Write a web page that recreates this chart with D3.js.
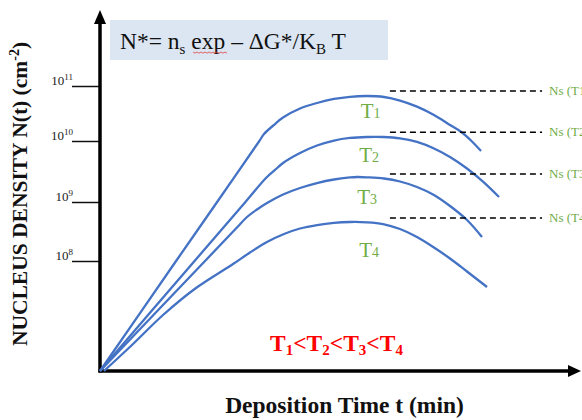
<!DOCTYPE html>
<html lang="en">
<head>
    <meta charset="UTF-8">
    <title>nucleusDensity</title>
    <script src="https://d3js.org/d3.v7.min.js"></script>
    <style>
        body { margin: 0; background: #fff; }
        svg { display: block; }
        svg text { font-family: "Liberation Serif", "Times New Roman", "DejaVu Serif", serif; }
    </style>
</head>
<body>
    <div id="chart"></div>
    <script>
        // curve data: deposition time (arbitrary min) vs log10 N
        const timeT1 = [0, 15.85, 24.4, 33.2, 34.17, 36.46, 38.13, 41.67, 45.21, 48.75, 52.08, 55.63, 59.17, 62.5, 66.04, 69.58, 72.92, 75.42, 77.5, 79.38];
        const logNT1 = [6, 8, 9, 10, 10.127, 10.309, 10.427, 10.591, 10.691, 10.764, 10.804, 10.818, 10.8, 10.735, 10.625, 10.473, 10.291, 10.155, 9.992, 9.836];
        const timeT2 = [0, 19.7, 30.3, 34.58, 36.46, 38.13, 41.67, 45.21, 48.75, 52.08, 55.63, 58.96, 62.5, 66.04, 69.58, 72.92, 76.46, 79.79, 83.13];
        const logNT2 = [6, 8, 9, 9.393, 9.525, 9.639, 9.803, 9.926, 10.009, 10.055, 10.073, 10.073, 10.049, 9.984, 9.877, 9.738, 9.549, 9.334, 9.082];
        const timeT3 = [0, 21.88, 28.33, 30.63, 32.71, 34.79, 38.13, 41.67, 45.21, 48.75, 52.08, 53.54, 55.63, 59.17, 62.5, 66.04, 69.58, 72.92, 76.46, 79.58];
        const logNT3 = [6, 8, 8.551, 8.746, 8.873, 8.983, 9.123, 9.23, 9.311, 9.369, 9.402, 9.41, 9.405, 9.385, 9.336, 9.246, 9.115, 8.932, 8.695, 8.407];
        const timeT4 = [0.83, 6.88, 13.13, 20.0, 27.71, 31.25, 34.79, 38.33, 41.67, 45.21, 48.75, 52.08, 55.63, 58.96, 62.5, 66.04, 69.58, 72.92, 76.46, 80.63];
        const logNT4 = [6, 6.491, 7.018, 7.509, 7.945, 8.144, 8.322, 8.458, 8.551, 8.61, 8.647, 8.661, 8.656, 8.627, 8.542, 8.407, 8.229, 8.042, 7.809, 7.527];

        const seriesNames = ["1", "2", "3", "4"];
        const seriesTimes = [timeT1, timeT2, timeT3, timeT4];
        const seriesLogN = [logNT1, logNT2, logNT3, logNT4];
        // label positions for T1..T4 (time, logN at baseline)
        const labelTime = [54.3, 54.0, 53.6, 54.0];
        const labelLogN = [10.42, 9.66, 8.97, 8.07];

        // saturation density Ns(T) dashed levels
        const nsLogN = [10.91, 10.16, 9.46, 8.73];
        const nsStart = 60.4, nsEnd = 92.1;

        const tickExps = [8, 9, 10, 11];

        const width = 582, height = 420;
        const svg = d3.select("#chart").append("svg")
            .attr("width", width)
            .attr("height", height);

        const x = d3.scaleLinear().domain([0, 100]).range([100, 580]);
        // uneven decade spacing as drawn in the schematic
        const y = d3.scaleLinear().domain([6, 8, 9, 10, 11]).range([371, 261, 202, 141, 86]);

        const blue = "#4472c4", green = "#70ad47";

        // formula box
        svg.append("rect")
            .attr("x", 110).attr("y", 20)
            .attr("width", 278).attr("height", 40)
            .attr("fill", "#dce6f2");
        const formula = svg.append("text")
            .attr("x", 120).attr("y", 49)
            .attr("font-size", 23.5)
            .attr("fill", "#111");
        formula.append("tspan").text("N*= n");
        formula.append("tspan").attr("font-size", 15).attr("dy", 5).text("s");
        formula.append("tspan").attr("dy", -5).text(" exp – ΔG*/K");
        formula.append("tspan").attr("font-size", 15).attr("dy", 5).text("B");
        formula.append("tspan").attr("dy", -5).text(" T");
        // spell-check squiggle under "exp"
        svg.append("path")
            .attr("d", "M" + d3.range(0, 18).map(i => `${193 + i * 2},${52 + (i % 2 ? 1.2 : 0)}`).join("L"))
            .attr("fill", "none")
            .attr("stroke", "#e04040")
            .attr("stroke-width", 0.8);

        // y ticks
        const yAxis = svg.append("g")
            .attr("transform", "translate(100,0)")
            .call(d3.axisLeft(y).tickValues(tickExps).tickSize(28).tickFormat(""));
        yAxis.select(".domain").remove();
        yAxis.selectAll(".tick line").attr("stroke", "#111").attr("stroke-width", 1.5);

        tickExps.forEach(e => {
            const t = svg.append("text")
                .attr("x", 73).attr("y", y(e) - 1)
                .attr("text-anchor", "end")
                .attr("font-size", 13)
                .attr("fill", "#222");
            t.append("tspan").text("10");
            t.append("tspan").attr("font-size", 9).attr("dy", -5).text(e);
        });

        // axes with arrows
        svg.append("line")
            .attr("x1", x(0)).attr("y1", y(6) + 1.5)
            .attr("x2", x(0)).attr("y2", 22)
            .attr("stroke", "#000").attr("stroke-width", 3.5);
        svg.append("path")
            .attr("d", `M${x(0) - 6},24 L${x(0)},10 L${x(0) + 6},24 Z`)
            .attr("fill", "#000");
        svg.append("line")
            .attr("x1", x(0) - 1.5).attr("y1", y(6))
            .attr("x2", 570).attr("y2", y(6))
            .attr("stroke", "#000").attr("stroke-width", 3.5);
        svg.append("path")
            .attr("d", `M568,${y(6) - 6} L581,${y(6)} L568,${y(6) + 6} Z`)
            .attr("fill", "#000");

        // curves
        const line = d3.line()
            .x(d => x(d[0]))
            .y(d => y(d[1]))
            .curve(d3.curveCatmullRom.alpha(0.5));

        seriesTimes.forEach((times, i) => {
            const pts = times.map((t, j) => [t, seriesLogN[i][j]]);
            svg.append("path")
                .datum(pts)
                .attr("d", line)
                .attr("fill", "none")
                .attr("stroke", blue)
                .attr("stroke-width", 2.3);
        });

        // Ns dashed levels
        nsLogN.forEach((v, i) => {
            svg.append("line")
                .attr("x1", x(nsStart)).attr("x2", x(nsEnd))
                .attr("y1", y(v)).attr("y2", y(v))
                .attr("stroke", "#000")
                .attr("stroke-width", 1.5)
                .attr("stroke-dasharray", "6,4");
            svg.append("text")
                .attr("x", x(nsEnd) + 7).attr("y", y(v) + 4)
                .attr("font-size", 13)
                .attr("fill", green)
                .text(`Ns (T${seriesNames[i]})`);
        });

        // T labels
        seriesNames.forEach((n, i) => {
            const t = svg.append("text")
                .attr("x", x(labelTime[i])).attr("y", y(labelLogN[i]))
                .attr("font-size", 21)
                .attr("fill", green);
            t.append("tspan").text("T");
            t.append("tspan").attr("font-size", 14).text(n);
        });

        // order of temperatures
        const order = svg.append("text")
            .attr("x", 270).attr("y", 351)
            .attr("font-size", 23.5)
            .attr("font-weight", "bold")
            .attr("fill", "#ff0000");
        seriesNames.forEach((n, i) => {
            order.append("tspan").attr("dy", i === 0 ? 0 : -4).text((i ? "<" : "") + "T");
            order.append("tspan").attr("font-size", 15).attr("dy", 4).text(n);
        });

        // axis titles
        svg.append("text")
            .attr("x", 344.5).attr("y", 413)
            .attr("text-anchor", "middle")
            .attr("font-size", 23.5)
            .attr("font-weight", "bold")
            .attr("fill", "#111")
            .text("Deposition Time t (min)");

        const yTitle = svg.append("text")
            .attr("transform", "translate(27,194) rotate(-90)")
            .attr("text-anchor", "middle")
            .attr("font-size", 21.5)
            .attr("font-weight", "bold")
            .attr("fill", "#111");
        yTitle.append("tspan").text("NUCLEUS DENSITY N(t) (cm");
        yTitle.append("tspan").attr("font-size", 14).attr("dy", -8).text("-2");
        yTitle.append("tspan").attr("dy", 8).text(")");
    </script>
</body>
</html>
